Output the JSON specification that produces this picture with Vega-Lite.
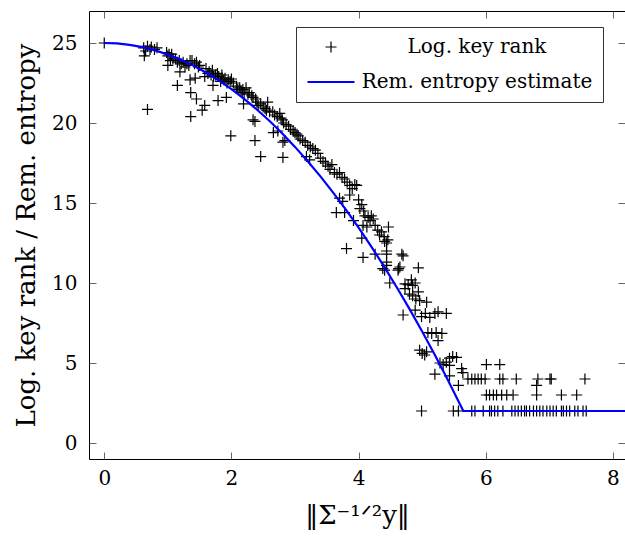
{
"$schema": "https://vega.github.io/schema/vega-lite/v6.json",
"width": 536, "height": 448,
"autosize": {"type": "none"},
"padding": {"left": 89, "top": 11, "right": 0, "bottom": 78},
"background": "white",
"config": {
  "view": {"stroke": "black", "strokeWidth": 1},
  "font": "DejaVu Serif",
  "axis": {"domain": false, "grid": false, "tickColor": "#666", "tickSize": -7, "tickWidth": 1,
           "labelFont": "DejaVu Serif", "labelFontSize": 20, "labelColor": "black", "labelPadding": 17,
           "titleFont": "DejaVu Serif", "titleFontWeight": "normal", "titleColor": "black"},
  "legend": {"orient": "none", "legendX": 207, "legendY": 16, "labelFont": "DejaVu Serif", "labelFontSize": 20,
             "labelColor": "black", "strokeColor": "#333", "fillColor": "white", "padding": 10, "rowPadding": -8,
             "labelAlign": "center", "labelOffset": 121, "labelLimit": 600}
},
"datasets": {
"pts": [
{"x":0,"y":25},{"x":0.62,"y":24.7},{"x":0.65,"y":24.5},{"x":0.68,"y":24.8},{"x":0.72,"y":24.6},{"x":0.74,"y":24.75},{"x":0.79,"y":24.6},{"x":0.83,"y":24.7},{"x":0.63,"y":24.2},{"x":0.68,"y":20.85},
{"x":0.98,"y":24.4},{"x":1.0,"y":24.2},{"x":1.02,"y":24.3},{"x":1.06,"y":24.3},{"x":1.0,"y":23.6},{"x":1.04,"y":23.9},{"x":1.08,"y":24.0},
{"x":1.12,"y":24.0},{"x":1.15,"y":23.8},{"x":1.18,"y":23.9},{"x":1.21,"y":23.7},{"x":1.24,"y":23.8},{"x":1.27,"y":23.5},{"x":1.3,"y":23.7},{"x":1.33,"y":23.6},{"x":1.35,"y":23.9},{"x":1.19,"y":23.2},{"x":1.15,"y":22.35},
{"x":1.38,"y":23.9},{"x":1.42,"y":23.7},{"x":1.45,"y":23.8},{"x":1.48,"y":23.5},{"x":1.5,"y":23.6},{"x":1.36,"y":21.9},{"x":1.35,"y":22.7},{"x":1.36,"y":20.4},{"x":1.43,"y":22.8},{"x":1.45,"y":21.5},
{"x":1.54,"y":20.8},{"x":1.58,"y":21.1},{"x":1.58,"y":22.9},{"x":1.6,"y":23.4},{"x":1.63,"y":23.1},{"x":1.65,"y":23.2},{"x":1.68,"y":23.0},{"x":1.7,"y":23.3},{"x":1.72,"y":22.9},{"x":1.75,"y":23.0},{"x":1.78,"y":23.1},{"x":1.71,"y":22.35},{"x":1.79,"y":21.4},{"x":1.85,"y":23.0},
{"x":1.8,"y":22.9},{"x":1.83,"y":22.6},{"x":1.85,"y":22.8},{"x":1.88,"y":22.7},{"x":1.9,"y":22.8},{"x":1.93,"y":22.5},{"x":1.95,"y":22.7},{"x":1.98,"y":22.6},{"x":2.0,"y":22.75},{"x":2.03,"y":22.5},{"x":1.92,"y":21.6},{"x":1.99,"y":19.2},
{"x":2.08,"y":22.3},{"x":2.1,"y":22.1},{"x":2.13,"y":22.2},{"x":2.15,"y":22.0},{"x":2.18,"y":22.1},{"x":2.2,"y":21.9},{"x":2.23,"y":22.2},{"x":2.26,"y":21.8},{"x":2.28,"y":21.9},{"x":2.32,"y":21.7},{"x":2.19,"y":21.2},{"x":2.17,"y":21.9},
{"x":2.34,"y":21.6},{"x":2.38,"y":21.5},{"x":2.4,"y":21.3},{"x":2.42,"y":21.1},{"x":2.46,"y":21.2},{"x":2.5,"y":21.0},{"x":2.53,"y":20.9},{"x":2.55,"y":20.8},{"x":2.57,"y":21.3},{"x":2.6,"y":20.7},{"x":2.34,"y":20.2},{"x":2.37,"y":18.9},{"x":2.46,"y":17.9},{"x":2.37,"y":20.1},
{"x":2.65,"y":20.7},{"x":2.68,"y":20.5},{"x":2.72,"y":20.4},{"x":2.76,"y":20.6},{"x":2.78,"y":20.3},{"x":2.8,"y":20.2},{"x":2.82,"y":20.0},{"x":2.86,"y":19.9},{"x":2.9,"y":19.8},{"x":2.93,"y":19.6},{"x":2.66,"y":19.4},{"x":2.73,"y":19.5},{"x":2.81,"y":18.8},{"x":2.81,"y":17.85},{"x":2.84,"y":18.9},
{"x":2.97,"y":19.5},{"x":3.0,"y":19.4},{"x":3.03,"y":19.3},{"x":3.05,"y":19.2},{"x":3.08,"y":19.0},{"x":3.12,"y":18.9},{"x":3.16,"y":18.8},{"x":3.2,"y":18.6},{"x":3.24,"y":18.5},{"x":3.28,"y":18.4},{"x":3.32,"y":18.3},{"x":3.18,"y":17.9},{"x":3.23,"y":17.7},
{"x":3.36,"y":18.1},{"x":3.4,"y":17.8},{"x":3.44,"y":17.6},{"x":3.48,"y":17.5},{"x":3.52,"y":17.3},{"x":3.55,"y":17.1},{"x":3.58,"y":17.4},{"x":3.62,"y":16.9},{"x":3.66,"y":16.8},{"x":3.7,"y":16.9},{"x":3.74,"y":16.6},{"x":3.78,"y":16.5},
{"x":3.82,"y":16.3},{"x":3.86,"y":16.1},{"x":3.9,"y":15.9},{"x":3.94,"y":16.15},{"x":3.97,"y":16.1},{"x":3.86,"y":15.5},{"x":3.7,"y":15.3},{"x":3.75,"y":15.1},{"x":3.65,"y":14.4},{"x":3.78,"y":14.4},{"x":3.81,"y":12.15},{"x":3.92,"y":13.9},
{"x":4.0,"y":15.2},{"x":4.02,"y":14.65},{"x":4.05,"y":14.9},{"x":4.08,"y":14.5},{"x":4.1,"y":14.2},{"x":4.15,"y":14.1},{"x":4.18,"y":13.9},{"x":4.2,"y":14.2},{"x":4.23,"y":14.0},{"x":4.07,"y":13.6},{"x":4.13,"y":13.5},{"x":4.05,"y":12.8},{"x":4.07,"y":11.6},
{"x":4.26,"y":13.6},{"x":4.3,"y":13.3},{"x":4.33,"y":13.0},{"x":4.36,"y":13.2},{"x":4.4,"y":12.9},{"x":4.41,"y":12.6},{"x":4.44,"y":12.5},{"x":4.44,"y":12.0},{"x":4.47,"y":13.5},{"x":4.46,"y":12.7},{"x":4.26,"y":11.8},{"x":4.44,"y":11.8},{"x":4.44,"y":11.3},
{"x":4.38,"y":10.9},{"x":4.41,"y":10.8},{"x":4.44,"y":11.1},{"x":4.49,"y":10.0},{"x":4.62,"y":10.8},{"x":4.65,"y":11.0},{"x":4.63,"y":10.9},{"x":4.68,"y":11.8},{"x":4.7,"y":11.7},{"x":4.94,"y":10.95},{"x":4.73,"y":9.65},{"x":4.73,"y":9.95},{"x":4.78,"y":9.9},{"x":4.83,"y":10.2},{"x":4.85,"y":9.85},{"x":4.89,"y":10.0},
{"x":4.8,"y":9.3},{"x":4.85,"y":9.2},{"x":4.9,"y":9.0},{"x":4.94,"y":9.45},{"x":4.96,"y":8.9},{"x":5.07,"y":8.8},{"x":4.89,"y":8.3},{"x":4.7,"y":8.0},{"x":4.99,"y":7.9},{"x":5.05,"y":8.1},{"x":5.12,"y":7.85},{"x":5.2,"y":8.1},{"x":5.38,"y":8.1},{"x":5.25,"y":8.2},
{"x":5.09,"y":6.9},{"x":5.15,"y":6.85},{"x":5.22,"y":6.9},{"x":5.31,"y":6.85},{"x":5.25,"y":6.4},{"x":4.96,"y":5.8},{"x":5.0,"y":5.6},{"x":5.04,"y":5.5},{"x":5.07,"y":5.7},{"x":5.2,"y":4.3},
{"x":5.28,"y":5.0},{"x":5.33,"y":4.9},{"x":5.38,"y":5.05},{"x":5.43,"y":4.85},{"x":5.43,"y":5.3},{"x":5.48,"y":5.4},{"x":5.54,"y":5.35},{"x":5.62,"y":4.65},{"x":5.64,"y":4.4},{"x":5.57,"y":3.6},{"x":5.43,"y":4.2},
{"x":5.72,"y":4},{"x":5.78,"y":4},{"x":5.83,"y":4},{"x":5.88,"y":4},{"x":5.93,"y":4},{"x":5.99,"y":4},{"x":6.22,"y":4},{"x":6.27,"y":4},{"x":6.48,"y":4},{"x":6.82,"y":4},{"x":7.01,"y":4},{"x":7.03,"y":4},{"x":7.56,"y":4},
{"x":6.01,"y":4.9},{"x":6.22,"y":4.9},{"x":6.8,"y":3.6},
{"x":6.01,"y":3},{"x":6.06,"y":3},{"x":6.12,"y":3},{"x":6.17,"y":3},{"x":6.25,"y":3},{"x":6.33,"y":3},{"x":6.43,"y":3},{"x":6.8,"y":3},{"x":7.19,"y":3},{"x":7.43,"y":3},
{"x":4.99,"y":2},{"x":5.49,"y":2},{"x":5.57,"y":2},{"x":5.78,"y":2},{"x":5.83,"y":2},{"x":5.96,"y":2},{"x":6.06,"y":2},{"x":6.09,"y":2},{"x":6.14,"y":2},{"x":6.19,"y":2},{"x":6.27,"y":2},{"x":6.41,"y":2},{"x":6.46,"y":2},{"x":6.51,"y":2},{"x":6.56,"y":2},{"x":6.61,"y":2},{"x":6.64,"y":2},{"x":6.69,"y":2},{"x":6.75,"y":2},{"x":6.8,"y":2},{"x":6.85,"y":2},{"x":6.9,"y":2},{"x":6.96,"y":2},{"x":7.01,"y":2},{"x":7.06,"y":2},{"x":7.11,"y":2},{"x":7.19,"y":2},{"x":7.22,"y":2},{"x":7.27,"y":2},{"x":7.32,"y":2},{"x":7.4,"y":2},{"x":7.45,"y":2},{"x":7.53,"y":2},{"x":7.58,"y":2}
],
"est": [
{"x":0,"y":25},{"x":0.2,"y":24.971},{"x":0.4,"y":24.885},{"x":0.6,"y":24.74},{"x":0.8,"y":24.538},{"x":1.0,"y":24.279},{"x":1.2,"y":23.961},{"x":1.4,"y":23.586},{"x":1.6,"y":23.153},{"x":1.8,"y":22.663},{"x":2.0,"y":22.115},{"x":2.2,"y":21.509},{"x":2.4,"y":20.845},{"x":2.6,"y":20.124},{"x":2.8,"y":19.345},{"x":3.0,"y":18.508},{"x":3.2,"y":17.614},{"x":3.4,"y":16.662},{"x":3.6,"y":15.652},{"x":3.8,"y":14.584},{"x":4.0,"y":13.459},{"x":4.2,"y":12.276},{"x":4.4,"y":11.036},{"x":4.6,"y":9.737},{"x":4.8,"y":8.381},{"x":5.0,"y":6.968},{"x":5.2,"y":5.496},{"x":5.4,"y":3.967},{"x":5.6,"y":2.38},{"x":5.647,"y":2},{"x":8.19,"y":2}
]
},
"layer": [
  {"data": {"name": "pts"},
   "mark": {"type": "point", "filled": false, "opacity": 1},
   "encoding": {
     "x": {"field": "x", "type": "quantitative", "scale": {"domain": [-0.24, 8.19], "nice": false, "zero": false},
           "axis": {"values": [0, 2, 4, 6, 8], "title": "‖Σ⁻¹ᐟ²y‖", "titleFontSize": 26, "titlePadding": 14, "labelPadding": 16}},
     "y": {"field": "y", "type": "quantitative", "scale": {"domain": [-1, 27], "nice": false, "zero": false},
           "axis": {"values": [0, 5, 10, 15, 20, 25], "title": "Log. key rank / Rem. entropy", "titleFontSize": 26, "titlePadding": 12, "labelPadding": 19}},
     "color": {"datum": "Log. key rank", "type": "nominal", "scale": {"domain": ["Log. key rank", "Rem. entropy estimate"], "range": ["black", "#0000ff"]}, "legend": {"title": null}},
     "shape": {"datum": "Log. key rank", "type": "nominal", "scale": {"domain": ["Log. key rank", "Rem. entropy estimate"], "range": ["M0,-1L0,1M-1,0L1,0", "M-1,0L1,0"]}, "legend": {"title": null}},
     "size": {"datum": "Log. key rank", "type": "ordinal", "scale": {"domain": ["Log. key rank", "Rem. entropy estimate"], "range": [121, 2209]}, "legend": {"title": null}},
     "strokeWidth": {"datum": "Log. key rank", "type": "ordinal", "scale": {"domain": ["Log. key rank", "Rem. entropy estimate"], "range": [1.2, 2.2]}, "legend": {"title": null}}
   }},
  {"data": {"name": "est"},
   "mark": {"type": "line"},
   "encoding": {
     "x": {"field": "x", "type": "quantitative", "axis": {"orient": "top", "labels": false, "title": null, "values": [0, 2, 4, 6, 8]}},
     "y": {"field": "y", "type": "quantitative", "axis": {"orient": "right", "labels": false, "title": null, "values": [0, 5, 10, 15, 20, 25]}},
     "color": {"datum": "Rem. entropy estimate", "type": "nominal"},
     "strokeWidth": {"datum": "Rem. entropy estimate", "type": "ordinal"}
   }}
],
"resolve": {"axis": {"x": "independent", "y": "independent"}}
}
